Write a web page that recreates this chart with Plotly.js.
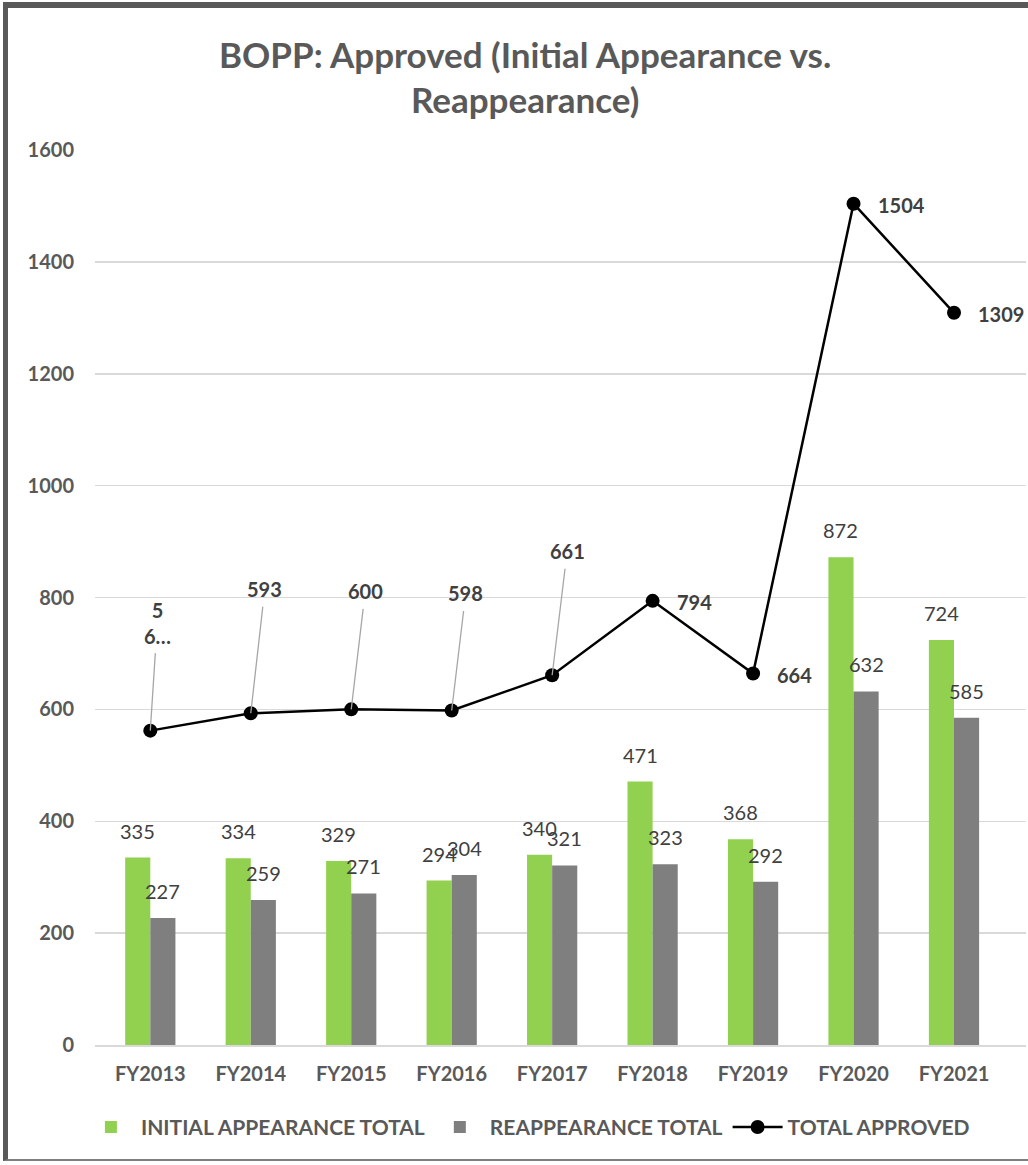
<!DOCTYPE html>
<html>
<head>
<meta charset="utf-8">
<script src="https://cdn.plot.ly/plotly-3.0.1.min.js"></script>
<style>
  html, body { margin: 0; padding: 0; background: #ffffff; }
  #frame {
    position: absolute; left: 3px; top: 2px;
    width: 1025px; height: 1159px;
    border-left: 5px solid #595959;
    border-top: 6px solid #595959;
    border-bottom: 2px solid #7f7f7f;
    box-sizing: border-box;
    background: #ffffff;
  }
  #chart { width: 1020px; height: 1151px; }
</style>
</head>
<body>
<div id="frame"><div id="chart"></div></div>
<script>
// ---- data ----
const categories = ['FY2013','FY2014','FY2015','FY2016','FY2017','FY2018','FY2019','FY2020','FY2021'];
const initialAppearance = [335, 334, 329, 294, 340, 471, 368, 872, 724];
const reappearance = [227, 259, 271, 304, 321, 323, 292, 632, 585];
const totalApproved = [562, 593, 600, 598, 661, 794, 664, 1504, 1309];
const seriesNames = ['INITIAL APPEARANCE TOTAL', 'REAPPEARANCE TOTAL', 'TOTAL APPROVED'];
const yTicks = [0, 200, 400, 600, 800, 1000, 1200, 1400, 1600];
const chartTitle = 'BOPP: Approved (Initial Appearance vs.<br>Reappearance)';

// label text for the total line (first label is truncated in the original)
const totalLabels = totalApproved.map(String);
totalLabels[0] = totalLabels[0].charAt(0) + '<br>' + totalLabels[0].charAt(1) + '…';

const FONT = 'Lato, "Open Sans", sans-serif';
const GREEN = '#92D050';
const GRAY = '#7F7F7F';
const TXT = '#404040';

const traces = [
  { type: 'bar', name: seriesNames[0], x: categories, y: initialAppearance,
    marker: { color: GREEN }, hoverinfo: 'x+y' },
  { type: 'bar', name: seriesNames[1], x: categories, y: reappearance,
    marker: { color: GRAY }, hoverinfo: 'x+y' },
  { type: 'scatter', mode: 'lines+markers', name: seriesNames[2], x: categories, y: totalApproved,
    line: { color: '#000000', width: 2.5 }, marker: { color: '#000000', size: 14 } }
];

const annotations = [];
// bar value labels
categories.forEach((c, i) => {
  annotations.push({ x: c, y: initialAppearance[i], xref: 'x', yref: 'y', text: String(initialAppearance[i]),
    showarrow: false, xshift: -12.6, yshift: 13, yanchor: 'bottom', xanchor: 'center',
    font: { family: FONT, size: 20, color: TXT } });
  annotations.push({ x: c, y: reappearance[i], xref: 'x', yref: 'y', text: String(reappearance[i]),
    showarrow: false, xshift: 12.6, yshift: 13, yanchor: 'bottom', xanchor: 'center',
    font: { family: FONT, size: 20, color: TXT } });
});
// total line labels: callouts for the first five, right-side labels for the rest
const calloutOffsets = [[7, -108], [14, -124], [14, -118], [14, -117], [15, -124]];
categories.forEach((c, i) => {
  if (i < calloutOffsets.length) {
    annotations.push({ x: c, y: totalApproved[i], xref: 'x', yref: 'y', text: '<b>' + totalLabels[i] + '</b>',
      showarrow: true, arrowhead: 0, arrowwidth: 1.3, arrowcolor: '#A6A6A6',
      ax: calloutOffsets[i][0], ay: calloutOffsets[i][1], standoff: 0, borderpad: 5,
      font: { family: FONT, size: 20, color: TXT } });
  } else {
    annotations.push({ x: c, y: totalApproved[i], xref: 'x', yref: 'y', text: '<b>' + totalLabels[i] + '</b>',
      showarrow: false, xanchor: 'left', xshift: 22, yshift: -1,
      font: { family: FONT, size: 20, color: TXT } });
  }
});

const layout = {
  width: 1020, height: 1151,
  margin: { l: 87, r: 2, t: 142, b: 114, autoexpand: false },
  paper_bgcolor: '#ffffff', plot_bgcolor: '#ffffff',
  font: { family: FONT, color: '#595959' },
  title: { text: '<b>' + chartTitle + '</b>', xref: 'container', x: 0.507, xanchor: 'center',
    yref: 'container', y: 0.948, yanchor: 'top',
    font: { family: FONT, size: 35, color: '#595959' } },
  barmode: 'group', bargap: 0.5, bargroupgap: 0,
  xaxis: { type: 'category', showgrid: false, showline: true, linecolor: '#D9D9D9', linewidth: 1.5,
    ticks: '', ticklabelstandoff: 10, automargin: false,
    tickfont: { family: FONT, size: 20, color: '#595959', weight: 'bold' } },
  yaxis: { range: [0, 1600], tickvals: yTicks, ticktext: yTicks.map(String),
    showgrid: true, gridcolor: '#D9D9D9', gridwidth: 1.5, zeroline: false, showline: false,
    ticks: '', ticklabelstandoff: 20, automargin: false,
    tickfont: { family: FONT, size: 20, color: '#595959', weight: 'bold' } },
  showlegend: true,
  legend: { orientation: 'h', x: 0.465, xanchor: 'center', y: -0.092, yanchor: 'middle',
    font: { family: FONT, size: 21, color: '#595959', weight: 'bold' },
    itemwidth: 50, traceorder: 'normal' },
  annotations: annotations
};

Plotly.newPlot('chart', traces, layout, { displayModeBar: false, staticPlot: true });
</script>
</body>
</html>
